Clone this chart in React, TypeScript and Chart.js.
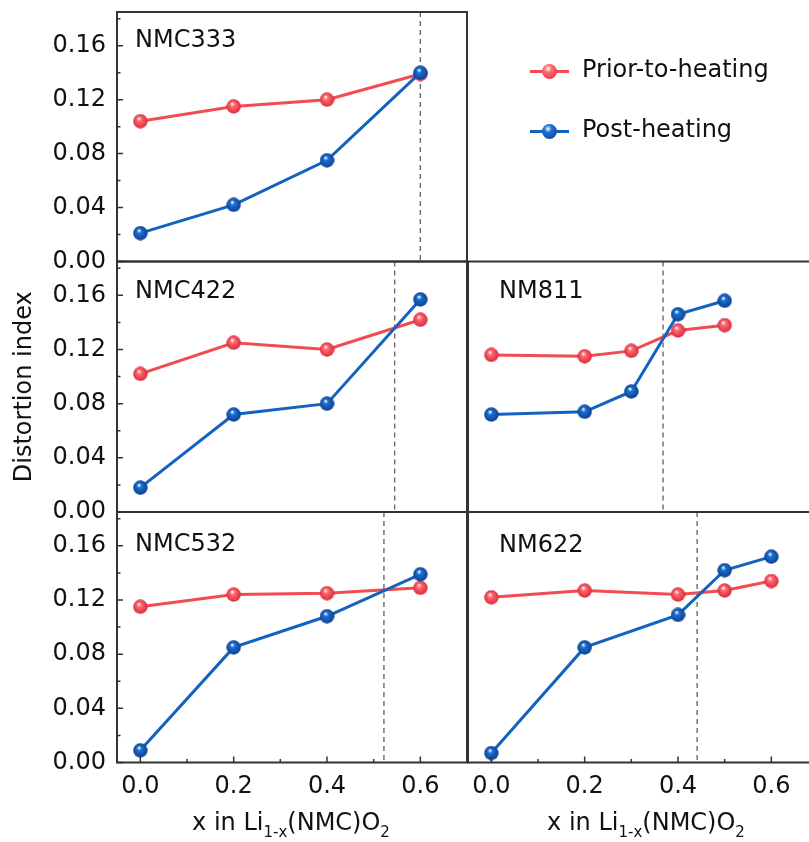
import React, { useEffect, useRef } from "react";
import { Chart, registerables } from "chart.js";

Chart.register(...registerables);

// ---------- data ----------
const panelNames = ["NMC333", "NMC422", "NM811", "NMC532", "NM622"];

const xFull = [0, 0.2, 0.4, 0.6];
const xNM811 = [0, 0.2, 0.3, 0.4, 0.5];
const xNM622 = [0, 0.2, 0.4, 0.5, 0.6];

const nmc333Prior = [0.104, 0.115, 0.12, 0.139];
const nmc333Post = [0.021, 0.042, 0.075, 0.14];
const nmc422Prior = [0.102, 0.125, 0.12, 0.142];
const nmc422Post = [0.018, 0.072, 0.08, 0.157];
const nm811Prior = [0.116, 0.115, 0.119, 0.134, 0.138];
const nm811Post = [0.072, 0.074, 0.089, 0.146, 0.156];
const nmc532Prior = [0.115, 0.124, 0.125, 0.129];
const nmc532Post = [0.009, 0.085, 0.108, 0.139];
const nm622Prior = [0.122, 0.127, 0.124, 0.127, 0.134];
const nm622Post = [0.007, 0.085, 0.109, 0.142, 0.152];

// dashed transition line position for each panel
const transitionX = [0.6, 0.545, 0.368, 0.522, 0.441];

const seriesNames = ["Prior-to-heating", "Post-heating"];
const yTicks = [0, 0.04, 0.08, 0.12, 0.16];
const yMinorTicks = [0.02, 0.06, 0.1, 0.14, 0.18];
const xTicks = [0, 0.2, 0.4, 0.6];
const xMinorTicks = [0.1, 0.3, 0.5];
const yTitle = "Distortion index";

// ---------- style / layout ----------
const FONT = "'DejaVu Sans', 'Liberation Sans', sans-serif";
const RED = "#f24b52";
const RED_DARK = "#d8283a";
const BLUE = "#1462bf";
const BLUE_DARK = "#0a3f8f";
const FRAME = "#333333";
const CW = 830;
const CH = 842;

type Panel = {
  name: string;
  xs: number[];
  prior: number[];
  post: number[];
  dash: number;
  box: [number, number, number, number]; // left, right, top, bottom
  yLabels: boolean;
  xLabels: boolean;
  yTitle: boolean;
  label: [number, number];
};

const panels: Panel[] = [
  { name: panelNames[0], xs: xFull, prior: nmc333Prior, post: nmc333Post, dash: transitionX[0], box: [117, 467, 12, 261.5], yLabels: true, xLabels: false, yTitle: false, label: [18, 35] },
  { name: panelNames[1], xs: xFull, prior: nmc422Prior, post: nmc422Post, dash: transitionX[1], box: [117, 467, 261.5, 512], yLabels: true, xLabels: false, yTitle: true, label: [18, 36] },
  { name: panelNames[2], xs: xNM811, prior: nm811Prior, post: nm811Post, dash: transitionX[2], box: [468, 818, 261.5, 512], yLabels: false, xLabels: false, yTitle: false, label: [31, 36] },
  { name: panelNames[3], xs: xFull, prior: nmc532Prior, post: nmc532Post, dash: transitionX[3], box: [117, 467, 512, 762.5], yLabels: true, xLabels: true, yTitle: false, label: [18, 39] },
  { name: panelNames[4], xs: xNM622, prior: nm622Prior, post: nm622Post, dash: transitionX[4], box: [468, 818, 512, 762.5], yLabels: false, xLabels: true, yTitle: false, label: [31, 40] },
];

function sphere(color: string, dark: string, size = 15) {
  const c = document.createElement("canvas");
  c.width = size;
  c.height = size;
  const g = c.getContext("2d")!;
  const r = size / 2;
  const grad = g.createRadialGradient(r - 1.5, r - 2.8, 0.3, r, r, r);
  grad.addColorStop(0, "#ffffff");
  grad.addColorStop(0.28, color);
  grad.addColorStop(1, dark);
  g.fillStyle = grad;
  g.beginPath();
  g.arc(r, r, r - 0.3, 0, Math.PI * 2);
  g.fill();
  return c;
}

const framePlugin = {
  id: "frame",
  beforeDatasetsDraw(chart: any, _args: any, opts: any) {
    const { ctx, chartArea: a, scales } = chart;
    const px = scales.x.getPixelForValue(opts.dash);
    ctx.save();
    ctx.strokeStyle = "#6a6a6a";
    ctx.lineWidth = 1.4;
    ctx.setLineDash([5, 4]);
    ctx.beginPath();
    ctx.moveTo(px, a.top);
    ctx.lineTo(px, a.bottom);
    ctx.stroke();
    ctx.restore();
  },
  afterDraw(chart: any, _args: any, opts: any) {
    const { ctx, chartArea: a, scales } = chart;
    ctx.save();
    ctx.strokeStyle = FRAME;
    ctx.lineWidth = 2;
    ctx.strokeRect(a.left, a.top, a.right - a.left, a.bottom - a.top);
    ctx.lineWidth = 1.5;
    if (opts.yTicks) {
      ctx.beginPath();
      yTicks.forEach((v) => {
        const py = scales.y.getPixelForValue(v);
        ctx.moveTo(a.left, py);
        ctx.lineTo(a.left + 6, py);
      });
      yMinorTicks.forEach((v) => {
        const py = scales.y.getPixelForValue(v);
        ctx.moveTo(a.left, py);
        ctx.lineTo(a.left + 3.5, py);
      });
      ctx.stroke();
    }
    if (opts.xTicks) {
      ctx.beginPath();
      xTicks.forEach((v) => {
        const px = scales.x.getPixelForValue(v);
        ctx.moveTo(px, a.bottom);
        ctx.lineTo(px, a.bottom - 6);
      });
      xMinorTicks.forEach((v) => {
        const px = scales.x.getPixelForValue(v);
        ctx.moveTo(px, a.bottom);
        ctx.lineTo(px, a.bottom - 3.5);
      });
      ctx.stroke();
    }
    ctx.fillStyle = "#111";
    ctx.font = `24px ${FONT}`;
    ctx.textBaseline = "alphabetic";
    ctx.textAlign = "left";
    ctx.fillText(opts.name, a.left + opts.label[0], a.top + opts.label[1]);
    ctx.restore();
  },
};

function PanelChart({ p }: { p: Panel }) {
  const ref = useRef<HTMLCanvasElement | null>(null);
  useEffect(() => {
    const [L, R, T, B] = p.box;
    const yW = p.yLabels ? L : 0;
    const xH = p.xLabels ? 40 : 0;
    const redBall = sphere("#ff6a70", RED_DARK);
    const blueBall = sphere("#1d6fd0", BLUE_DARK);
    const chart = new Chart(ref.current!, {
      type: "line",
      data: {
        datasets: [
          {
            label: seriesNames[0],
            data: p.xs.map((x, i) => ({ x, y: p.prior[i] })),
            borderColor: RED,
            backgroundColor: RED,
            borderWidth: 3,
            pointStyle: redBall as any,
            pointRadius: 7,
            order: 1,
          },
          {
            label: seriesNames[1],
            data: p.xs.map((x, i) => ({ x, y: p.post[i] })),
            borderColor: BLUE,
            backgroundColor: BLUE,
            borderWidth: 3,
            pointStyle: blueBall as any,
            pointRadius: 7,
            order: 0,
          },
        ],
      },
      options: {
        responsive: false,
        animation: false,
        events: [],
        layout: {
          padding: { left: L - yW, top: T, right: CW - R, bottom: CH - B - xH },
        },
        plugins: {
          legend: { display: false },
          tooltip: { enabled: false },
          frame: {
            dash: p.dash,
            name: p.name,
            label: p.label,
            yTicks: p.yLabels,
            xTicks: p.xLabels,
          },
        } as any,
        scales: {
          x: {
            type: "linear",
            min: -0.05,
            max: 0.7,
            display: p.xLabels,
            grid: { display: false, drawTicks: false },
            border: { display: false },
            afterBuildTicks: (s: any) => {
              s.ticks = xTicks.map((v) => ({ value: v }));
            },
            afterFit: (s: any) => {
              s.height = xH;
              s.paddingLeft = 0;
              s.paddingRight = 0;
            },
            ticks: {
              padding: 10,
              color: "#111",
              font: { family: FONT, size: 24 },
              callback: (v: any) => Number(v).toFixed(1),
            },
          },
          y: {
            type: "linear",
            min: 0,
            max: 0.185,
            display: p.yLabels,
            grid: { display: false, drawTicks: false },
            border: { display: false },
            afterBuildTicks: (s: any) => {
              s.ticks = yTicks.map((v) => ({ value: v }));
            },
            afterFit: (s: any) => {
              s.width = yW;
              s.paddingTop = 0;
              s.paddingBottom = 0;
            },
            title: {
              display: p.yTitle,
              text: yTitle,
              color: "#111",
              font: { family: FONT, size: 24 },
              padding: { top: 10, bottom: 0 },
            },
            ticks: {
              padding: 11,
              color: "#111",
              font: { family: FONT, size: 24 },
              callback: (v: any) => Number(v).toFixed(2),
            },
          },
        },
      },
      plugins: [framePlugin as any],
    });
    return () => chart.destroy();
  }, [p]);
  return (
    <canvas
      ref={ref}
      width={CW}
      height={CH}
      style={{ position: "absolute", left: 0, top: 0, width: CW, height: CH }}
    />
  );
}

function XTitle({ cx }: { cx: number }) {
  const sub: React.CSSProperties = { fontSize: 15, position: "relative", top: 7 };
  return (
    <div
      style={{
        position: "absolute",
        left: cx,
        top: 810,
        transform: "translateX(-50%)",
        whiteSpace: "nowrap",
        fontFamily: FONT,
        fontSize: 24,
        lineHeight: "24px",
        color: "#111",
      }}
    >
      x in Li<span style={sub}>1-x</span>(NMC)O<span style={sub}>2</span>
    </div>
  );
}

function LegendItem({ y, color, ball, dark, text }: { y: number; color: string; ball: string; dark: string; text: string }) {
  return (
    <>
      <div style={{ position: "absolute", left: 530, top: y - 1.5, width: 39, height: 3, background: color }} />
      <div
        style={{
          position: "absolute",
          left: 542,
          top: y - 7.5,
          width: 15,
          height: 15,
          borderRadius: "50%",
          background: `radial-gradient(circle at 40% 32%, #ffffff 0%, ${ball} 28%, ${dark} 100%)`,
        }}
      />
      <div
        style={{
          position: "absolute",
          left: 582,
          top: y + 5.5 - 20.3,
          fontFamily: FONT,
          fontSize: 24,
          lineHeight: "24px",
          color: "#111",
          whiteSpace: "nowrap",
        }}
      >
        {text}
      </div>
    </>
  );
}

export default function App() {
  return (
    <div
      style={{
        position: "absolute",
        left: 0,
        top: 0,
        width: 809,
        height: 842,
        overflow: "hidden",
        background: "#ffffff",
      }}
    >
      {panels.map((p) => (
        <PanelChart key={p.name} p={p} />
      ))}
      <XTitle cx={291} />
      <XTitle cx={646} />
      <LegendItem y={71.7} color={RED} ball="#ff6a70" dark={RED_DARK} text={seriesNames[0]} />
      <LegendItem y={131.7} color={BLUE} ball="#1d6fd0" dark={BLUE_DARK} text={seriesNames[1]} />
    </div>
  );
}
